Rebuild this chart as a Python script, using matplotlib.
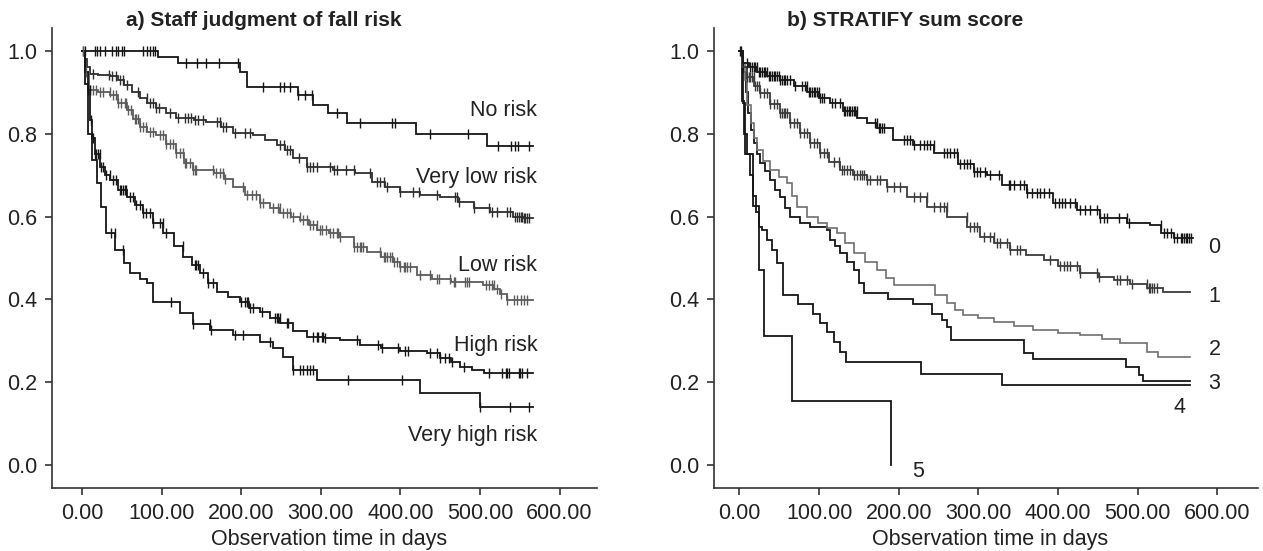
import numpy as np
import matplotlib
matplotlib.use("Agg")
import matplotlib.pyplot as plt

plt.rcParams['font.family'] = ['Liberation Sans', 'DejaVu Sans']

# ---------------- Panel a: Staff judgment of fall risk ----------------
panel_a_title = "a) Staff judgment of fall risk"
a_labels = ["No risk", "Very low risk", "Low risk", "High risk", "Very high risk"]
a_label_y = [0.857, 0.695, 0.483, 0.29, 0.072]
a_end = [567, 567, 567, 567, 567]

norisk_t = [0, 95, 120, 198, 207, 271, 290, 309, 333, 420, 509]
norisk_s = [1, 0.985, 0.97, 0.949, 0.913, 0.893, 0.869, 0.85, 0.825, 0.80, 0.771]
norisk_c = [15.5, 18, 22, 29, 38, 42, 45, 50, 53, 76, 81, 85, 89, 92, 131, 144, 156, 172, 196,
            227, 249, 253, 261, 271, 280, 289, 320, 349, 389, 393, 437, 485, 522, 539, 544, 548, 561]

verylow_t = [0, 3, 6, 9.5, 20, 35, 45, 52, 62, 72, 82, 93, 105, 118, 140, 156, 175, 190, 215, 230,
             245, 255, 265, 282, 315, 343, 364, 380, 400, 425, 450, 472, 492, 513, 542, 555]
verylow_s = [1, 0.98, 0.96, 0.945, 0.942, 0.939, 0.93, 0.918, 0.90, 0.886, 0.875, 0.861, 0.85, 0.837,
             0.833, 0.829, 0.815, 0.801, 0.797, 0.785, 0.773, 0.76, 0.741, 0.719, 0.712, 0.705, 0.684,
             0.672, 0.66, 0.652, 0.647, 0.636, 0.62, 0.611, 0.60, 0.596]
verylow_c = [0.5, 13, 34, 38, 43, 48, 51, 56, 70, 81, 85, 89, 93, 97, 110, 120, 129, 133, 137, 142, 146,
             152, 169, 173, 177, 181, 192, 204, 211, 249, 253, 257, 261, 272, 282, 286, 290, 295, 312,
             316, 320, 332, 341, 362, 370, 374, 379, 383, 400, 416, 423, 446, 469, 471, 473, 492, 511,
             515, 521, 534, 538, 544, 546, 549, 551, 553, 555, 557, 559, 561]

low_t = [0, 3, 9, 20, 35, 45, 56, 64, 72, 82, 93, 105, 118, 128, 139, 165, 178, 190, 205, 223, 236, 249,
         262, 274, 285, 295, 310, 324, 341, 358, 375, 390, 400, 421, 440, 463, 504, 518, 525, 534]
low_s = [1, 0.95, 0.905, 0.9, 0.893, 0.875, 0.857, 0.835, 0.816, 0.805, 0.797, 0.775, 0.753, 0.73, 0.712,
         0.705, 0.69, 0.671, 0.652, 0.632, 0.62, 0.608, 0.6, 0.591, 0.58, 0.567, 0.56, 0.551, 0.527, 0.515,
         0.503, 0.49, 0.479, 0.459, 0.45, 0.442, 0.434, 0.424, 0.414, 0.398]
low_c = [0.8, 5, 9.2, 13.4, 17.6, 21.8, 26, 34.4, 38.6, 42.8, 45, 49, 53.3, 55.3, 57.5, 61.7, 66, 68, 70,
         72.2, 76.4, 80.6, 84.8, 89, 97.3, 101.5, 105.7, 110, 114, 118, 122.5, 126.7, 128.8, 131, 135, 139,
         141.4, 143.5, 164.5, 168.7, 173, 177, 179, 202, 206.5, 212.8, 219, 223, 227.5, 240, 246.4, 248.5,
         252.7, 257, 261, 265.3, 273.6, 278, 282, 286, 290.5, 294.7, 299, 301, 307, 311.5, 315.7, 320, 322,
         324, 341, 345, 349, 351, 353.4, 374, 379, 381, 383, 387, 389.4, 391.5, 395.7, 400, 404, 406, 408,
         412.5, 425, 437.4, 446, 448, 462.6, 466.8, 469, 481.6, 483.7, 486, 507, 511, 515, 517.5, 521.7,
         526, 534, 542.4, 546.6, 551, 555, 559]

high_t = [0, 3, 7, 9.5, 12, 15.5, 22, 28, 35, 45, 56, 66, 76, 89, 102, 115, 127, 138, 148, 158, 169, 183,
          198, 210, 223, 236, 249, 265, 282, 305, 324, 349, 375, 400, 433, 450, 463, 475, 490, 505]
high_s = [1, 0.95, 0.905, 0.833, 0.79, 0.752, 0.72, 0.70, 0.688, 0.665, 0.647, 0.627, 0.608, 0.585, 0.56,
          0.53, 0.503, 0.483, 0.463, 0.44, 0.418, 0.405, 0.393, 0.38, 0.369, 0.356, 0.343, 0.325, 0.309,
          0.306, 0.302, 0.29, 0.282, 0.276, 0.27, 0.258, 0.248, 0.237, 0.23, 0.222]
high_c = [2.9, 7.1, 9.2, 11.3, 13.4, 15.5, 17.6, 19.7, 21.8, 23.9, 26, 30.2, 34.4, 38.6, 42.8, 47, 49, 51,
          53.3, 55.3, 59.6, 63.8, 68, 72, 76.4, 80.6, 84.8, 89, 97.3, 101.5, 105.7, 126.7, 141.4, 143.5,
          145.6, 152, 158, 164.5, 200, 204.4, 206.5, 208.6, 210.7, 215, 225.4, 242.2, 244.3, 246.4, 248.5,
          257, 259, 290.5, 294.7, 296.8, 301, 303, 305, 345, 372.3, 376.5, 397.5, 406, 410, 437.4, 446, 450,
          456.3, 460.5, 464.7, 479.4, 511, 527.7, 532, 534, 536, 548.6, 550.7, 552.8, 559]

veryhigh_t = [0, 3, 7, 12, 18, 24, 30, 41, 53, 60, 72, 81, 89, 123, 139, 161, 190, 223, 240, 252, 265,
              295, 424, 500]
veryhigh_s = [1, 0.92, 0.8, 0.736, 0.68, 0.623, 0.56, 0.519, 0.487, 0.463, 0.45, 0.439, 0.393, 0.367,
              0.341, 0.326, 0.314, 0.297, 0.282, 0.261, 0.23, 0.205, 0.174, 0.14]
veryhigh_c = [36.5, 40.7, 51, 112, 139, 160, 162.4, 191.7, 202, 236, 265, 273.6, 278, 282, 286, 290.5,
              334.5, 401.6, 500, 538, 561]

# ---------------- Panel b: STRATIFY sum score ----------------
panel_b_title = "b) STRATIFY sum score"
b_labels = ["0", "1", "2", "3", "4", "5"]
b_label_t = [589, 589, 589, 589, 552, 224]
b_label_y = [0.526, 0.408, 0.278, 0.198, 0.14, -0.014]
b_end = [570, 566, 566, 566, 566, 190.5]

s0_t = [0, 5, 12, 22, 35, 51, 68, 85, 100, 114, 130, 148, 160, 173, 193, 218, 244, 274, 294, 311, 330,
        361, 394, 424, 453, 487, 516, 529, 545]
s0_s = [1, 0.97, 0.96, 0.95, 0.94, 0.929, 0.915, 0.901, 0.887, 0.874, 0.855, 0.837, 0.825, 0.813, 0.784,
        0.772, 0.753, 0.728, 0.708, 0.70, 0.676, 0.656, 0.632, 0.615, 0.596, 0.584, 0.579, 0.56, 0.548]
s0_c = [0.5, 9.3, 13.5, 15.5, 17.6, 19.7, 21.8, 23.9, 26, 28.1, 30.2, 32.3, 34.4, 36.5, 38.6, 40.7, 42.8,
        44.9, 47, 49, 51.2, 53.3, 55.4, 57.4, 59.5, 63.7, 70, 78.4, 82.5, 84.6, 86.7, 88.8, 90.9, 93, 95.1,
        97.2, 99.3, 101.4, 103.5, 105.6, 116, 120.2, 126.5, 130.7, 132.8, 134.9, 137, 139, 141.2, 143.3,
        145.4, 147.5, 170.5, 172.6, 174.7, 176.8, 178.9, 181, 206, 210.3, 214.5, 218.7, 227, 231.2, 235.4,
        239.6, 243.8, 256.4, 260.6, 264.8, 269, 273.2, 277.4, 281.6, 285.8, 290, 294, 298.3, 302.4, 308.7,
        315, 325.4, 338, 340, 344.3, 352.6, 356.8, 361, 367.3, 373.6, 377.8, 382, 388.2, 396.6, 400.8, 405,
        409.2, 415.5, 421.8, 428, 434.3, 440.6, 449, 453.2, 457.4, 461.5, 476.2, 486.7, 488.8, 528.6, 532.8,
        537, 541.2, 545.4, 549.6, 553.8, 555.9, 558, 560, 562, 564.3, 566.4]

s1_t = [0, 3, 9, 18, 26, 38, 51, 63, 76, 88, 101, 113, 126, 143, 160, 185, 210, 236, 261, 286, 302, 320,
        340, 360, 382, 400, 428, 450, 470, 490, 512, 532]
s1_s = [1, 0.96, 0.937, 0.915, 0.897, 0.872, 0.849, 0.825, 0.801, 0.777, 0.753, 0.732, 0.712, 0.70, 0.688,
        0.671, 0.647, 0.623, 0.599, 0.575, 0.551, 0.535, 0.519, 0.507, 0.495, 0.48, 0.463, 0.455, 0.447,
        0.437, 0.427, 0.418]
s1_c = [9.3, 11.4, 13.5, 15.5, 17.6, 19.7, 21.8, 23.9, 26, 30.2, 34.4, 38.6, 42.8, 47, 51.2, 53.3, 55.4,
        57.4, 59.5, 63.7, 67.9, 72.1, 76.3, 80.4, 84.6, 88.8, 93, 97.2, 101.4, 105.6, 109.8, 118.2, 124.5,
        128.6, 130.7, 134.9, 139, 143.3, 147.5, 151.7, 153.8, 155.9, 160, 164.3, 172.6, 176.8, 185.2, 193.5,
        202, 218.7, 227, 235.4, 243.8, 252.2, 256.4, 260.6, 285.8, 290, 294, 298.3, 306.6, 315, 319, 323.3,
        327.5, 336, 340, 348.5, 352.6, 390.3, 403, 407, 411.3, 415.5, 423.8, 428, 449, 451, 474, 478,
        486.7, 492.6, 511.5, 513.6, 515.7, 518, 520, 524]

s2_t = [0, 4, 7, 10, 14, 18, 22, 30, 38, 50, 60, 66, 72, 85, 98, 110, 122, 133, 144, 158, 173, 184, 194,
        245, 261, 271, 281, 300, 319, 345, 369, 400, 428, 455, 478, 512, 525]
s2_s = [1, 0.97, 0.929, 0.87, 0.825, 0.79, 0.76, 0.735, 0.712, 0.695, 0.68, 0.65, 0.623, 0.60, 0.584, 0.572,
        0.56, 0.535, 0.512, 0.49, 0.471, 0.452, 0.434, 0.41, 0.391, 0.375, 0.362, 0.355, 0.345, 0.335,
        0.326, 0.32, 0.314, 0.305, 0.294, 0.273, 0.261]

s3_t = [0, 4, 8, 11, 14, 18, 22, 26, 32, 38, 45, 51, 57, 63, 76, 89, 110, 114, 120, 126, 135, 144, 150, 156,
        186, 218, 242, 254, 260, 265, 357, 369, 485, 501, 506]
s3_s = [1, 0.95, 0.9, 0.85, 0.81, 0.777, 0.75, 0.729, 0.71, 0.688, 0.665, 0.647, 0.62, 0.599, 0.585, 0.574,
        0.567, 0.543, 0.528, 0.512, 0.49, 0.471, 0.44, 0.415, 0.40, 0.388, 0.366, 0.35, 0.334, 0.302, 0.27,
        0.256, 0.237, 0.217, 0.203]

s4_t = [0, 3, 6, 9, 13, 17, 21, 25, 28, 34, 41, 47, 55, 74, 92, 100.5, 110, 119, 126.5, 133.7, 228, 330]
s4_s = [1, 0.88, 0.8, 0.75, 0.70, 0.65, 0.61, 0.575, 0.567, 0.543, 0.519, 0.487, 0.41, 0.388, 0.366,
        0.342, 0.322, 0.298, 0.272, 0.248, 0.219, 0.193]
s4_c = [2]

s5_t = [0, 4, 7.5, 17, 25, 31, 66, 190.5]
s5_s = [1, 0.875, 0.75, 0.625, 0.47, 0.3125, 0.156, 0.0]

x_ticks = [0, 100, 200, 300, 400, 500, 600]
y_ticks = [0.0, 0.2, 0.4, 0.6, 0.8, 1.0]
x_label = "Observation time in days"

TXT = '#222222'
FS = 15.5
BLACK = '#161616'


def km_plot(ax, t, s, end, color, cens=None, lw=1.3):
    t = list(t)
    s = list(s)
    if end > t[-1]:
        t = t + [end]
        s = s + [s[-1]]
    ax.step(t, s, where='post', color=color, lw=lw, solid_joinstyle='miter', zorder=3)
    if cens:
        tt = np.array(t)
        ss = np.array(s)
        c = np.array(cens)
        idx = np.searchsorted(tt, c, side='right') - 1
        ax.plot(c, ss[idx], linestyle='none', marker='|', markersize=7, mew=1.0,
                color=color, zorder=4)


fig = plt.figure(figsize=(12.63, 5.51), dpi=100)
axa = fig.add_axes([52 / 1263, 1 - 488 / 551, 545 / 1263, 460 / 551])
axb = fig.add_axes([714 / 1263, 1 - 488 / 551, 544 / 1263, 460 / 551])

km_plot(axa, norisk_t, norisk_s, a_end[0], BLACK, norisk_c)
km_plot(axa, verylow_t, verylow_s, a_end[1], '#2e2e2e', verylow_c)
km_plot(axa, low_t, low_s, a_end[2], '#5c5c5c', low_c)
km_plot(axa, high_t, high_s, a_end[3], BLACK, high_c)
km_plot(axa, veryhigh_t, veryhigh_s, a_end[4], BLACK, veryhigh_c)
for lab, yy in zip(a_labels, a_label_y):
    axa.text(572, yy, lab, ha='right', va='center', fontsize=FS, color=TXT)

km_plot(axb, s5_t, s5_s, b_end[5], BLACK)
km_plot(axb, s4_t, s4_s, b_end[4], BLACK, s4_c)
km_plot(axb, s3_t, s3_s, b_end[3], BLACK)
km_plot(axb, s2_t, s2_s, b_end[2], '#707070', lw=1.2)
km_plot(axb, s1_t, s1_s, b_end[1], '#3c3c3c', s1_c)
km_plot(axb, s0_t, s0_s, b_end[0], BLACK, s0_c)
for i, (lab, tx, yy) in enumerate(zip(b_labels, b_label_t, b_label_y)):
    ha = 'left' if i < 4 else 'center'
    axb.text(tx, yy, lab, ha=ha, va='center', fontsize=FS, color=TXT)

for ax, xl in ((axa, (-38, 647)), (axb, (-32, 651))):
    ax.set_xlim(*xl)
    ax.set_ylim(-0.055, 1.055)
    ax.set_xticks(x_ticks)
    ax.set_xticklabels([f"{v:.2f}" for v in x_ticks])
    ax.set_yticks(y_ticks)
    ax.set_yticklabels([f"{v:.1f}" for v in y_ticks])
    for sp in ('top', 'right'):
        ax.spines[sp].set_visible(False)
    for sp in ('left', 'bottom'):
        ax.spines[sp].set_linewidth(1.2)
        ax.spines[sp].set_color('#333333')
    ax.tick_params(direction='out', length=5, width=1.2, color='#333333',
                   labelsize=FS, labelcolor=TXT, pad=5.5)

fig.text(263.5 / 1263, 1 - 26 / 551, panel_a_title, ha='center', va='baseline',
         fontsize=15, fontweight='bold', color=TXT)
fig.text(905.5 / 1263, 1 - 26 / 551, panel_b_title, ha='center', va='baseline',
         fontsize=15, fontweight='bold', color=TXT)
fig.text(329 / 1263, 1 - 545 / 551, x_label, ha='center', va='baseline', fontsize=FS, color=TXT)
fig.text(989.7 / 1263, 1 - 545 / 551, x_label, ha='center', va='baseline', fontsize=FS, color=TXT)

fig.savefig('out.png', dpi=100)
